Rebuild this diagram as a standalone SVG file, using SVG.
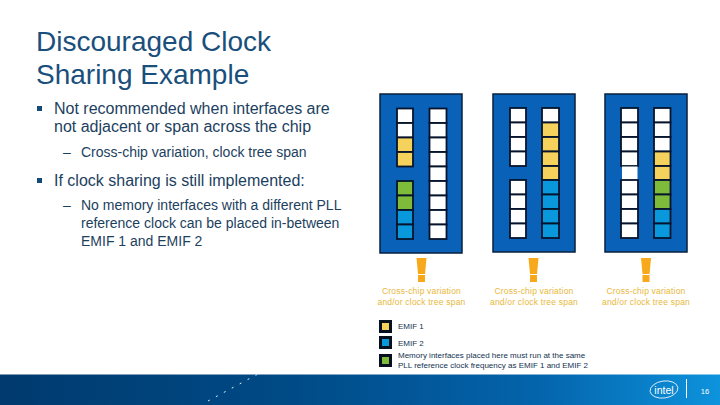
<svg xmlns="http://www.w3.org/2000/svg" width="720" height="405" viewBox="0 0 720 405">
<style>
text{font-family:"Liberation Sans",Arial,sans-serif;fill:#1c4160}
.t{font-size:28px;fill:#1a4f7c}
.b1{font-size:16px}
.b2{font-size:14px}
.w{font-size:8.5px;fill:#e8b83a;text-anchor:middle;letter-spacing:.2px}
.l{font-size:8px;fill:#12324f}
.p{fill:#0a62b8;stroke:#0a1f3c;stroke-width:1.5}
.c{stroke:#05142c;stroke-width:1.8}
.e{fill:#fff}.y{fill:#f5d25c}.g{fill:#7fbb3a}.u{fill:#0a98dc}
.ex{fill:#f7a81b}
.k{fill:#06101f}
</style>
<defs>
<linearGradient id="foot" x1="0" x2="1" y1="0" y2="0">
<stop offset="0" stop-color="#003a6e"/><stop offset=".4" stop-color="#004a86"/><stop offset=".75" stop-color="#0464ac"/><stop offset="1" stop-color="#0d93dc"/>
</linearGradient>
<g id="bang"><path class="ex" d="M-5 0H5L3.500 16H-3.500Z"/><rect class="ex" x="-3.500" y="17" width="7" height="7"/></g>
</defs>
<rect width="720" height="405" fill="#fff"/>
<g id="title"><text class="t" x="36" y="51">Discouraged Clock</text><text class="t" x="36" y="84">Sharing Example</text></g>
<g id="body">
<rect x="37" y="106" width="5" height="5" fill="#124a78"/>
<text class="b1" x="54" y="114">Not recommended when interfaces are</text>
<text class="b1" x="54" y="132">not adjacent or span across the chip</text>
<text class="b2" x="63" y="157">–</text>
<text class="b2" x="81" y="157">Cross-chip variation, clock tree span</text>
<rect x="37" y="178" width="5" height="5" fill="#124a78"/>
<text class="b1" x="54" y="186">If clock sharing is still implemented:</text>
<text class="b2" x="63" y="210">–</text>
<text class="b2" x="81" y="210">No memory interfaces with a different PLL</text>
<text class="b2" x="81" y="228">reference clock can be placed in-between</text>
<text class="b2" x="81" y="246">EMIF 1 and EMIF 2</text>
</g>
<g id="panel1">
<rect class="p" x="380" y="94" width="82" height="159"/>
<rect class="c e" x="397" y="108.500" width="16" height="14.500"/><rect class="c e" x="397" y="123" width="16" height="14.500"/><rect class="c y" x="397" y="137.500" width="16" height="14.500"/><rect class="c y" x="397" y="152" width="16" height="14.500"/>
<rect class="c g" x="397" y="181" width="16" height="14.500"/><rect class="c g" x="397" y="195.500" width="16" height="14.500"/><rect class="c u" x="397" y="210" width="16" height="14.500"/><rect class="c u" x="397" y="224.500" width="16" height="14.500"/>
<rect class="c e" x="429.500" y="108.500" width="17" height="14.500"/><rect class="c e" x="429.500" y="123" width="17" height="14.500"/><rect class="c e" x="429.500" y="137.500" width="17" height="14.500"/><rect class="c e" x="429.500" y="152" width="17" height="14.500"/><rect class="c e" x="429.500" y="166.500" width="17" height="14.500"/><rect class="c e" x="429.500" y="181" width="17" height="14.500"/><rect class="c e" x="429.500" y="195.500" width="17" height="14.500"/><rect class="c e" x="429.500" y="210" width="17" height="14.500"/><rect class="c e" x="429.500" y="224.500" width="17" height="14.500"/>
</g>
<g id="panel2">
<rect class="p" x="493" y="94" width="82" height="158"/>
<rect class="c e" x="510" y="108" width="16" height="14.500"/><rect class="c e" x="510" y="122.500" width="16" height="14.500"/><rect class="c e" x="510" y="137" width="16" height="14.500"/><rect class="c e" x="510" y="151.500" width="16" height="14.500"/>
<rect class="c e" x="510" y="180" width="16" height="14.500"/><rect class="c e" x="510" y="194.500" width="16" height="14.500"/><rect class="c e" x="510" y="209" width="16" height="14.500"/><rect class="c e" x="510" y="223.500" width="16" height="14.500"/>
<rect class="c e" x="542" y="108" width="17" height="14.500"/><rect class="c y" x="542" y="122.500" width="17" height="14.500"/><rect class="c y" x="542" y="137" width="17" height="14.500"/><rect class="c y" x="542" y="151.500" width="17" height="14.500"/><rect class="c y" x="542" y="166" width="17" height="14"/><rect class="c u" x="542" y="180" width="17" height="14.500"/><rect class="c u" x="542" y="194.500" width="17" height="14.500"/><rect class="c u" x="542" y="209" width="17" height="14.500"/><rect class="c u" x="542" y="223.500" width="17" height="14.500"/>
</g>
<g id="panel3">
<rect class="p" x="605" y="94" width="82" height="158"/>
<rect class="c e" x="621" y="108" width="17" height="14.500"/><rect class="c e" x="621" y="122.500" width="17" height="14.500"/><rect class="c e" x="621" y="137" width="17" height="14.500"/><rect class="c e" x="621" y="151.500" width="17" height="14.500"/>
<rect class="e" x="622" y="166.500" width="15.500" height="13.500"/>
<rect class="c e" x="621" y="180" width="17" height="14.500"/><rect class="c e" x="621" y="194.500" width="17" height="14.500"/><rect class="c e" x="621" y="209" width="17" height="14.500"/><rect class="c e" x="621" y="223.500" width="17" height="14.500"/>
<rect class="c e" x="654" y="108" width="16.500" height="14.500"/><rect class="c e" x="654" y="122.500" width="16.500" height="14.500"/><rect class="c e" x="654" y="137" width="16.500" height="14.500"/><rect class="c y" x="654" y="151.500" width="16.500" height="14.500"/><rect class="c y" x="654" y="166" width="16.500" height="14"/><rect class="c g" x="654" y="180" width="16.500" height="14.500"/><rect class="c g" x="654" y="194.500" width="16.500" height="14.500"/><rect class="c u" x="654" y="209" width="16.500" height="14.500"/><rect class="c u" x="654" y="223.500" width="16.500" height="14.500"/>
</g>
<g id="warn1"><use href="#bang" x="421.500" y="258"/><text class="w" x="421.500" y="294">Cross-chip variation</text><text class="w" x="421.500" y="305">and/or clock tree span</text></g>
<g id="warn2"><use href="#bang" x="533.500" y="258"/><text class="w" x="534" y="294">Cross-chip variation</text><text class="w" x="534" y="305">and/or clock tree span</text></g>
<g id="warn3"><use href="#bang" x="646" y="258"/><text class="w" x="646" y="294">Cross-chip variation</text><text class="w" x="646" y="305">and/or clock tree span</text></g>
<g id="legend">
<rect class="k" x="379" y="320" width="13" height="13"/><rect class="y" x="382" y="323" width="7" height="7"/><text class="l" x="398" y="329">EMIF 1</text>
<rect class="k" x="379" y="336" width="13" height="13"/><rect class="u" x="382" y="339" width="7" height="7"/><text class="l" x="398" y="346">EMIF 2</text>
<rect class="k" x="379" y="354" width="13" height="13"/><rect class="g" x="382" y="357" width="7" height="7"/><text class="l" x="398" y="358">Memory interfaces placed here must run at the same</text><text class="l" x="398" y="368">PLL reference clock frequency as EMIF 1 and EMIF 2</text>
</g>
<g id="footer">
<rect y="374.500" width="720" height="30.500" fill="url(#foot)"/>
<path d="M208 401L258 374" fill="none" stroke="#dff2ff" stroke-width="1" stroke-dasharray="2 7"/>
<ellipse cx="664" cy="389.500" rx="14" ry="8.500" fill="none" stroke="#fff" stroke-width=".8" transform="rotate(-8 664 389.500)"/>
<text x="664" y="393.500" text-anchor="middle" style="font-size:10.500px;fill:#fff">intel</text>
<rect x="686" y="379" width="1" height="19" fill="#fff"/>
<text x="705" y="394" text-anchor="middle" style="font-size:7.500px;fill:#fff">16</text>
</g>
</svg>
